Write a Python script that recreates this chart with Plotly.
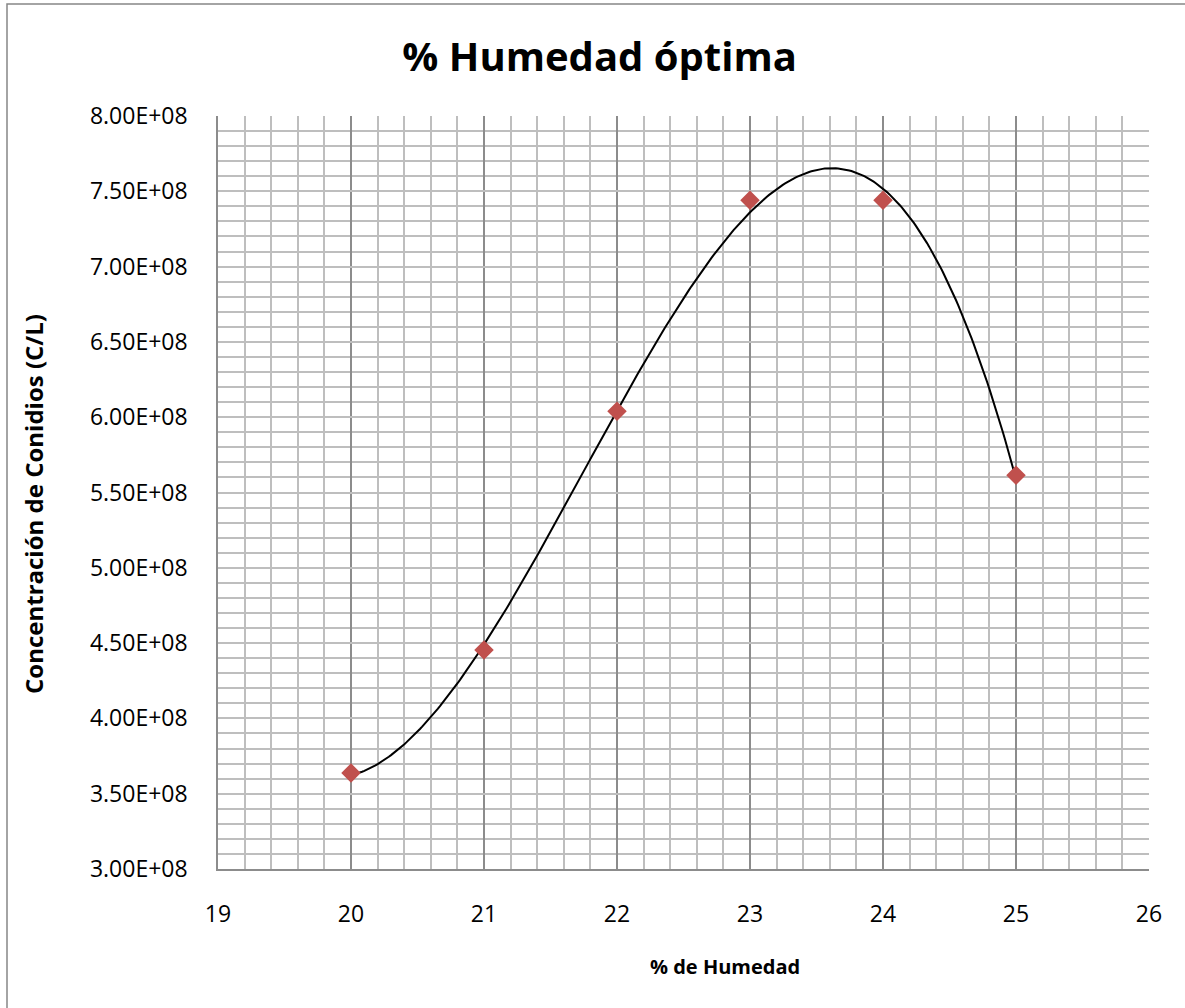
import numpy as np
import plotly.graph_objects as go

humedad = [20, 21, 22, 23, 24, 25]
concentracion = [3.637e8, 4.454e8, 6.04e8, 7.44e8, 7.44e8, 5.615e8]
y_ticks = [3.0e8, 3.5e8, 4.0e8, 4.5e8, 5.0e8, 5.5e8, 6.0e8, 6.5e8, 7.0e8, 7.5e8, 8.0e8]
y_labels = ["3.00E+08", "3.50E+08", "4.00E+08", "4.50E+08", "5.00E+08", "5.50E+08",
            "6.00E+08", "6.50E+08", "7.00E+08", "7.50E+08", "8.00E+08"]
x_ticks = [19, 20, 21, 22, 23, 24, 25, 26]

# polynomial trendline (order 3) fitted to the data
coef = np.polyfit(humedad, concentracion, 3)
xt = np.linspace(min(humedad), max(humedad), 300)
yt = np.polyval(coef, xt)

FONT = "Open Sans"
W, H = 1185, 1008
L, R, T, B = 218, 36, 116, 139
pw, ph = W - L - R, H - T - B

def px(xp):
    return (xp - L) / pw

def py(yp):
    return (H - B - yp) / ph

fig = go.Figure()
fig.add_trace(go.Scatter(x=xt, y=yt, mode="lines", line=dict(color="black", width=2),
                         hoverinfo="skip", showlegend=False))
fig.add_trace(go.Scatter(x=humedad, y=concentracion, mode="markers",
                         marker=dict(symbol="diamond", size=15, color="#C0504D"),
                         showlegend=False))

fig.update_layout(
    width=W, height=H,
    margin=dict(l=L, r=R, t=T, b=B),
    paper_bgcolor="white", plot_bgcolor="white",
    font=dict(family=FONT, size=23, color="black"),
    title=dict(text="<b>% Humedad óptima</b>", x=0.506, xanchor="center", y=0.943, yanchor="middle",
               font=dict(family=FONT, size=40, color="black")),
    xaxis=dict(range=[19, 26], tickvals=x_ticks, ticktext=[str(v) for v in x_ticks],
               showgrid=True, gridcolor="#8C8C8C", gridwidth=1.5,
               minor=dict(dtick=0.2, showgrid=True, gridcolor="#BEBEBE", gridwidth=1.5),
               showline=True, linecolor="#8C8C8C", linewidth=1.5,
               ticks="", ticklabelstandoff=24, zeroline=False),
    yaxis=dict(range=[3.0e8, 8.0e8], tickvals=y_ticks, ticktext=y_labels,
               showgrid=True, gridcolor="#BEBEBE", gridwidth=1.5,
               minor=dict(dtick=1e7, tick0=3e8, showgrid=True, gridcolor="#BEBEBE", gridwidth=1.5),
               showline=True, linecolor="#8C8C8C", linewidth=1.5,
               ticks="", ticklabelstandoff=24, zeroline=False),
    annotations=[
        dict(text="<b>% de Humedad</b>", xref="paper", yref="paper", x=px(725), y=py(967),
             xanchor="center", yanchor="middle", showarrow=False, font=dict(family=FONT, size=20)),
        dict(text="<b>Concentración de Conidios (C/L)</b>", xref="paper", yref="paper",
             x=px(33), y=py(504), textangle=-90, xanchor="center", yanchor="middle",
             showarrow=False, font=dict(family=FONT, size=24)),
    ],
    shapes=[dict(type="rect", xref="paper", yref="paper", x0=px(7), x1=1.2, y0=-0.3, y1=py(4),
                 line=dict(color="#868686", width=1.5), layer="below")],
)

fig.write_html("out.html")
